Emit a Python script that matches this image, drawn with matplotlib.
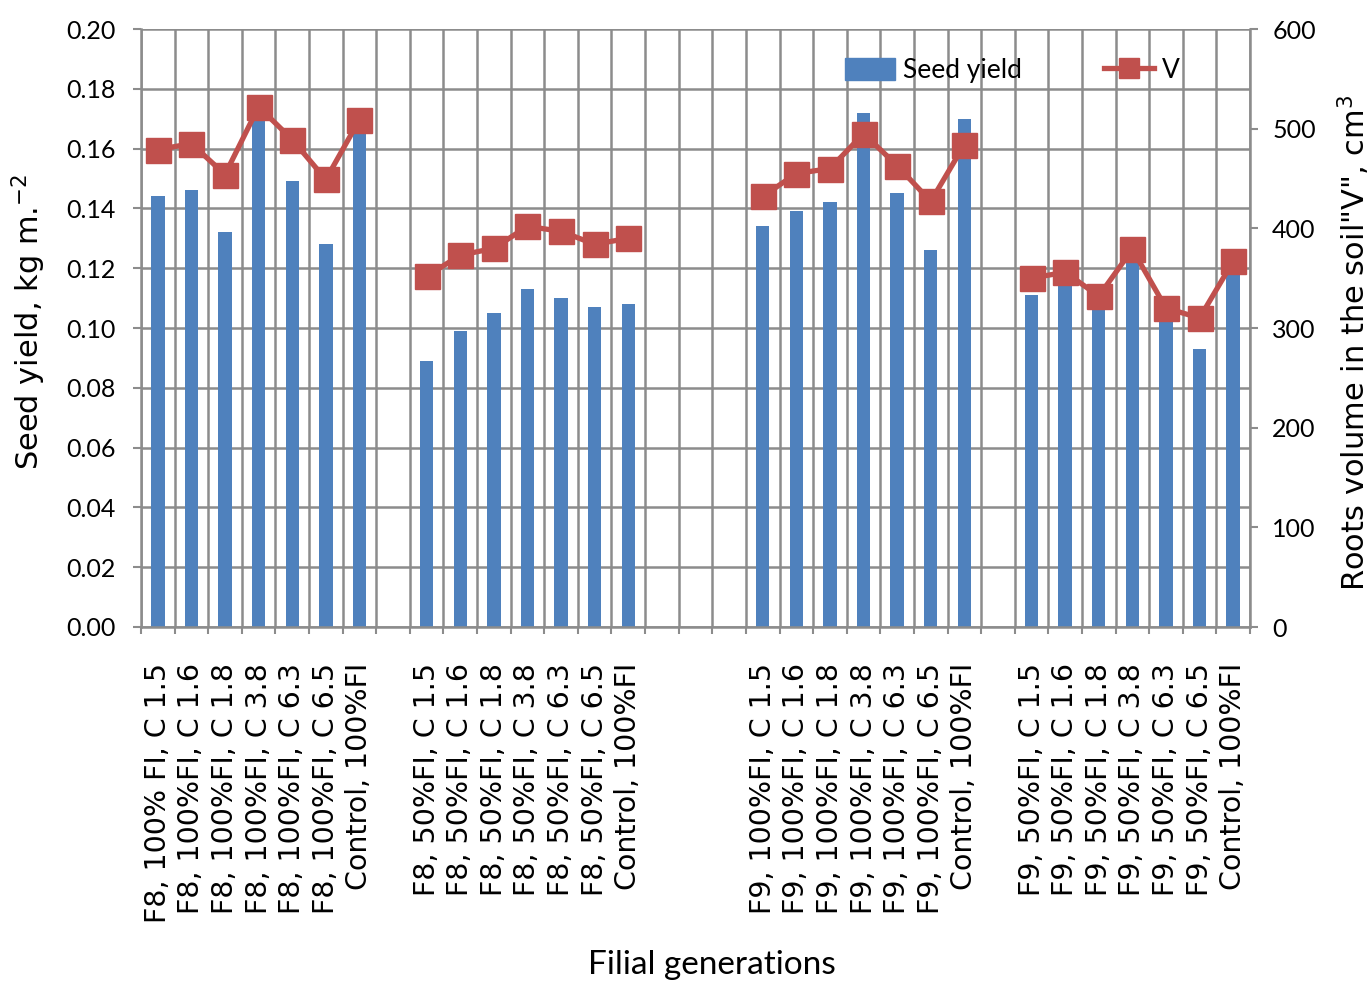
import numpy as np
import matplotlib
matplotlib.use("Agg")
import matplotlib.pyplot as plt
from matplotlib.patches import Patch
from matplotlib.lines import Line2D

categories = [
    "F8, 100% FI, C 1.5", "F8, 100%FI, C 1.6", "F8, 100%FI, C 1.8", "F8, 100%FI, C 3.8",
    "F8, 100%FI, C 6.3", "F8, 100%FI, C 6.5", "Control, 100%FI",
    "",
    "F8, 50%FI, C 1.5", "F8, 50%FI, C 1.6", "F8, 50%FI, C 1.8", "F8, 50%FI, C 3.8",
    "F8, 50%FI, C 6.3", "F8, 50%FI, C 6.5", "Control, 100%FI",
    "", "", "",
    "F9, 100%FI, C 1.5", "F9, 100%FI, C 1.6", "F9, 100%FI, C 1.8", "F9, 100%FI, C 3.8",
    "F9, 100%FI, C 6.3", "F9, 100%FI, C 6.5", "Control, 100%FI",
    "",
    "F9, 50%FI, C 1.5", "F9, 50%FI, C 1.6", "F9, 50%FI, C 1.8", "F9, 50%FI, C 3.8",
    "F9, 50%FI, C 6.3", "F9, 50%FI, C 6.5", "Control, 100%FI",
]

nan = np.nan
seed_yield = [
    0.144, 0.146, 0.132, 0.172, 0.149, 0.128, 0.166,
    nan,
    0.089, 0.099, 0.105, 0.113, 0.110, 0.107, 0.108,
    nan, nan, nan,
    0.134, 0.139, 0.142, 0.172, 0.145, 0.126, 0.170,
    nan,
    0.111, 0.116, 0.108, 0.122, 0.103, 0.093, 0.118,
]

roots_v = [
    479, 485, 454, 522, 489, 449, 509,
    nan,
    352, 373, 380, 402, 397, 384, 390,
    nan, nan, nan,
    432, 455, 460, 495, 463, 427, 484,
    nan,
    350, 356, 332, 379, 320, 310, 367,
]

left_ticks = [0.00, 0.02, 0.04, 0.06, 0.08, 0.10, 0.12, 0.14, 0.16, 0.18, 0.20]
right_ticks = [0, 100, 200, 300, 400, 500, 600]

bar_color = "#4f81bd"
line_color = "#c0504d"
grid_color = "#8c8c8c"
num_font = "Lato"

fig = plt.figure(figsize=(13.7, 9.88), dpi=100)
ax = fig.add_axes([141 / 1370, 1 - 627 / 988, (1250 - 141) / 1370, (627 - 29) / 988])

x = np.arange(len(categories))
sy = np.array(seed_yield, dtype=float)
mask = ~np.isnan(sy)
ax.bar(x[mask], sy[mask], width=0.4, color=bar_color, zorder=2)

ax.set_xlim(-0.5, len(categories) - 0.5)
ax.set_ylim(0, 0.2)
ax.set_yticks(left_ticks)
ax.set_yticklabels([f"{v:.2f}" for v in left_ticks], fontsize=18, family=num_font)
ax.set_xticks(x)
ax.set_xticklabels(categories, rotation=90, fontsize=20.5, family="DejaVu Sans",
                   va="top", ha="center")
ax.set_xticks(np.arange(-0.5, len(categories), 1.0), minor=True)
ax.tick_params(axis="x", which="major", length=0, pad=26)
ax.tick_params(axis="x", which="minor", length=5, width=1.5, color=grid_color, direction="out")
ax.tick_params(axis="y", which="major", length=6, width=1.5, color=grid_color,
               direction="out", pad=12)

ax.set_axisbelow(True)
ax.grid(axis="y", which="major", color=grid_color, linewidth=1.8)
ax.grid(axis="x", which="minor", color=grid_color, linewidth=1.8)
for s in ["top", "right"]:
    ax.spines[s].set_visible(False)
for s in ["left", "bottom"]:
    ax.spines[s].set_color(grid_color)
    ax.spines[s].set_linewidth(1.8)

ax.set_ylabel("Seed yield, kg m.$^{-2}$", fontsize=22, family="DejaVu Sans")
ax.yaxis.set_label_coords(-0.084, 0.51)
ax.set_xlabel("Filial generations", fontsize=24, family=num_font)
ax.xaxis.set_label_coords(0.515, -0.540)

ax2 = ax.twinx()
ax2.set_ylim(0, 600)
ax2.set_yticks(right_ticks)
ax2.set_yticklabels([str(v) for v in right_ticks], fontsize=18, family=num_font)
ax2.tick_params(axis="y", length=6, width=1.5, color=grid_color, direction="out", pad=10)
ax2.plot(x, roots_v, color=line_color, linewidth=3.8, marker="s", markersize=18,
         markerfacecolor=line_color, markeredgecolor=line_color, zorder=3)
for s in ["top", "left", "bottom"]:
    ax2.spines[s].set_visible(False)
ax2.spines["right"].set_color(grid_color)
ax2.spines["right"].set_linewidth(1.8)
ax2.set_ylabel('Roots volume in the soil"V", cm$^3$', fontsize=22, family="DejaVu Sans")
ax2.yaxis.set_label_coords(1.077, 0.475)

handles = [Patch(facecolor=bar_color, edgecolor=bar_color),
           Line2D([0], [0], color=line_color, linewidth=3.8, marker="s", markersize=15)]
ax2.legend(handles, ["Seed yield", "V"], loc="center left", bbox_to_anchor=(0.635, 0.931),
           ncol=2, frameon=False, handlelength=1.9, handleheight=0.95, columnspacing=3.1,
           handletextpad=0.3, borderpad=0, borderaxespad=0,
           prop={"family": num_font, "size": 19})

fig.savefig("out.png", dpi=100)
